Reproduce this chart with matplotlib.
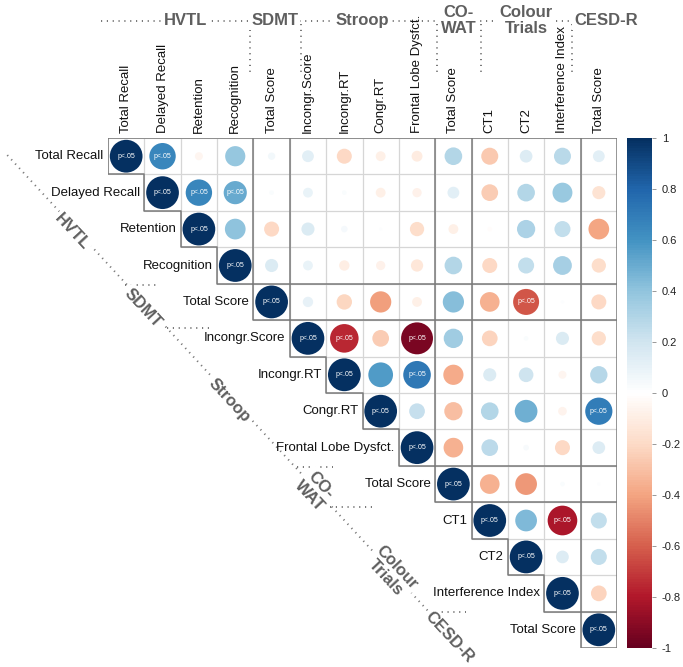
import numpy as np
import matplotlib
matplotlib.use('Agg')
import matplotlib.pyplot as plt
from matplotlib.colors import LinearSegmentedColormap, Normalize
from matplotlib.patches import Circle
import matplotlib.cm as cm

plt.rcParams['font.family'] = ['Liberation Sans', 'DejaVu Sans']

labels = ['Total Recall', 'Delayed Recall', 'Retention', 'Recognition',
          'Total Score', 'Incongr.Score', 'Incongr.RT', 'Congr.RT',
          'Frontal Lobe Dysfct.', 'Total Score', 'CT1', 'CT2',
          'Interference Index', 'Total Score']
groups = ['HVTL', 'SDMT', 'Stroop', 'CO-\nWAT', 'Colour\nTrials', 'CESD-R']
group_sizes = [4, 1, 4, 1, 3, 1]

# upper triangle: row i holds the correlations with columns i..13
corr_rows = [
    [1, 0.65, -0.06, 0.38, 0.05, 0.13, -0.21, -0.09, -0.11, 0.29, -0.27, 0.15, 0.27, 0.13],
    [1, 0.65, 0.50, 0.02, 0.09, 0.02, -0.09, -0.08, 0.13, -0.26, 0.29, 0.37, -0.16],
    [1, 0.40, -0.21, 0.16, 0.04, 0.01, -0.19, -0.09, -0.02, 0.31, 0.24, -0.40],
    [1, 0.16, 0.09, -0.10, -0.08, -0.14, 0.29, -0.21, 0.24, 0.33, -0.19],
    [1, 0.10, -0.22, -0.42, -0.09, 0.42, -0.36, -0.63, 0.01, -0.21],
    [1, -0.76, -0.26, -0.95, 0.35, -0.23, 0.02, 0.16, -0.19],
    [1, 0.57, 0.71, -0.38, 0.16, 0.20, -0.06, 0.28],
    [1, 0.23, -0.31, 0.29, 0.48, -0.07, 0.69],
    [1, -0.36, 0.26, 0.03, -0.21, 0.15],
    [1, -0.36, -0.44, 0.02, 0.01],
    [1, 0.44, -0.82, 0.24],
    [1, 0.15, 0.24],
    [1, -0.23],
    [1],
]
# columns with p<.05, per row
sig_cols = [[0, 1], [1, 2, 3], [2], [3], [4, 11], [5, 6, 8], [6, 8], [7, 13],
            [8], [9], [10, 12], [11], [12], [13]]

cbar_ticks = [1, 0.8, 0.6, 0.4, 0.2, 0, -0.2, -0.4, -0.6, -0.8, -1]

n = len(labels)
rdbu = ["#67001F", "#B2182B", "#D6604D", "#F4A582", "#FDDBC7", "#FFFFFF",
        "#D1E5F0", "#92C5DE", "#4393C3", "#2166AC", "#053061"]
cmap = LinearSegmentedColormap.from_list('corrplot', rdbu, N=200)
norm = Normalize(-1, 1)

W, H = 683, 667
fig = plt.figure(figsize=(W / 100, H / 100), dpi=100)
ax = fig.add_axes([108 / W, 1 - 648 / H, 509 / W, 510 / H])
ax.set_xlim(0, n)
ax.set_ylim(n, 0)
ax.axis('off')

light = '#d6d6d6'
dark = '#7a7a7a'
# light cell grid in the upper triangle
for i in range(n):
    for j in range(i, n):
        ax.plot([j, j + 1, j + 1, j, j], [i, i, i + 1, i + 1, i], color=light, lw=0.8, zorder=1)

# block borders
bounds = np.cumsum(group_sizes)[:-1]
for b in bounds:
    ax.plot([b, b], [0, b], color=dark, lw=1.1, zorder=2)
    ax.plot([b, n], [b, b], color=dark, lw=1.1, zorder=2)
ax.plot([0, n], [0, 0], color=dark, lw=1.1, zorder=2)
ax.plot([n, n], [0, n], color=dark, lw=1.1, zorder=2)
# staircase along the diagonal
sx, sy = [0], [0]
for i in range(n):
    sx += [i, i + 1]
    sy += [i + 1, i + 1]
ax.plot(sx, sy, color=dark, lw=1.1, zorder=2)

# circles
for i, row in enumerate(corr_rows):
    for k, r in enumerate(row):
        j = i + k
        rad = 0.45 * np.sqrt(abs(r))
        ax.add_patch(Circle((j + 0.5, i + 0.5), rad, facecolor=cmap(norm(r)),
                            edgecolor='none', zorder=3))
        if j in sig_cols[i]:
            ax.text(j + 0.5, i + 0.5, 'p<.05', color='white', fontsize=5,
                    ha='center', va='center', zorder=4)

# column labels
for j, lab in enumerate(labels):
    ax.text(j + 0.5, -0.15, lab, rotation=90, ha='center', va='bottom',
            fontsize=9.5, color='#111111', clip_on=False)
# row labels
for i, lab in enumerate(labels):
    ax.text(i - 0.12, i + 0.5, lab, ha='right', va='center',
            fontsize=9.5, color='#111111', clip_on=False)

gcol = '#5f5f5f'
dot = dict(color='#777777', lw=1.4, ls=(0, (0.6, 2.4)), clip_on=False, zorder=0)

# top group annotation
top_y = -3.22
ax.plot([-0.2, 12.9], [top_y, top_y], **dot)
top_x = [2.14, 4.59, 7.0, 9.64, 11.5, 13.7]
for g, x in zip(groups, top_x):
    ax.text(x, top_y, g, ha='center', va='center', fontsize=12, fontweight='bold',
            color=gcol, linespacing=1.05, clip_on=False,
            bbox=dict(facecolor='white', edgecolor='none', pad=1.5))
for x in [3.9, 5.3, 9.04, 10.27, 12.75]:
    ax.plot([x, x], [top_y + 0.1, -1.8], **dot)

# diagonal group annotation
ax.plot([-2.77, 8.79], [0.47, 12.97], **dot)
diag_pos = [(-0.99, 2.58), (0.96, 4.67), (3.35, 7.2), (5.69, 9.67), (7.8, 11.92), (9.4, 13.7)]
for g, (x, y) in zip(groups, diag_pos):
    ax.text(x, y, g, ha='center', va='center', rotation=-47, rotation_mode='anchor',
            fontsize=12, fontweight='bold', color=gcol, linespacing=1.05, clip_on=False,
            bbox=dict(facecolor='white', edgecolor='none', pad=1.5))
for y, x0, x1 in [(4.04, 0.47, 1.43), (5.22, 1.62, 2.8), (9.04, 5.19, 6.18),
                  (10.14, 6.1, 7.28), (13.0, 8.85, 9.86)]:
    ax.plot([x0, x1], [y, y], **dot)

# colorbar
cax = fig.add_axes([627 / W, 1 - 648 / H, 25 / W, 510 / H])
cb = fig.colorbar(cm.ScalarMappable(norm=norm, cmap=cmap), cax=cax, ticks=cbar_ticks)
cb.outline.set_visible(False)
cb.ax.set_yticklabels([('%g' % t) for t in cbar_ticks])
cb.ax.tick_params(labelsize=8, length=3, width=0.6, color='#888888', labelcolor='#222222', pad=4)

fig.savefig('out.png', dpi=100)
